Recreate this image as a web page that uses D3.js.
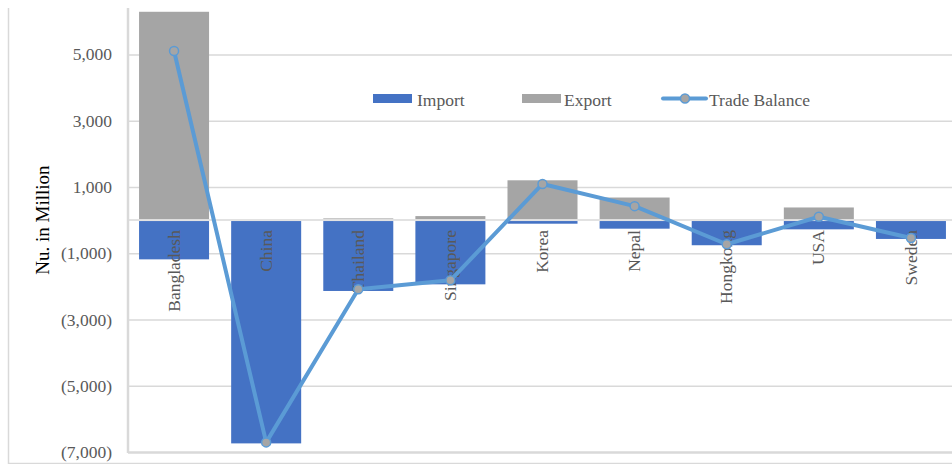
<!DOCTYPE html>
<html>
<head>
<meta charset="utf-8">
<script src="https://cdn.jsdelivr.net/npm/d3@7"></script>
<style>
  body { margin: 0; background: #fff; }
  svg { display: block; font-family: "Liberation Serif", "Times New Roman", serif; }
</style>
</head>
<body>
<script>
const countries = ["Bangladesh", "China", "Thailand", "Singapore", "Korea", "Nepal", "Hongkong", "USA", "Sweden"];
const imports = [-1186, -6740, -2140, -1940, -110, -260, -760, -280, -570];
const exports = [6286, 30, 50, 120, 1200, 680, 30, 380, 30];
const balance = [5100, -6710, -2090, -1820, 1090, 420, -730, 100, -540];
const yTicks = [-7000, -5000, -3000, -1000, 1000, 3000, 5000];

const importColor = '#4472C4', exportColor = '#A5A5A5', lineColor = '#5B9BD5';
const gridColor = '#d9d9d9', textColor = '#595959';

const width = 952, height = 464;
const plot = {left: 128, right: 957, top: 8, bottom: 452};

const svg = d3.select('body').append('svg')
    .attr('width', width)
    .attr('height', height);

// Outer chart frame (left and bottom edges show)
svg.append('path')
    .attr('d', `M8.5,8V463.5H${width}`)
    .attr('fill', 'none')
    .attr('stroke', gridColor)
    .attr('stroke-width', 1.5);

const xScale = d3.scaleBand()
    .domain(countries)
    .range([plot.left, plot.right])
    .paddingInner(0.24)
    .paddingOuter(0.12);

const yScale = d3.scaleLinear()
    .domain([-7000, 6400])
    .range([plot.bottom, plot.top]);

const fmt = d => {
    const s = d3.format(',')(Math.abs(d));
    return d < 0 ? `(${s})` : s;
};

// Horizontal gridlines and value labels
const yAxis = d3.axisLeft(yScale)
    .tickValues(yTicks)
    .tickSize(-(plot.right - plot.left))
    .tickFormat(fmt);

const yAxisG = svg.append('g')
    .attr('transform', `translate(${plot.left}, 0)`)
    .call(yAxis);
yAxisG.select('.domain').remove();
yAxisG.selectAll('.tick line')
    .attr('stroke', gridColor)
    .attr('stroke-width', 1.5);
yAxisG.selectAll('.tick line')
    .filter(d => d === -7000)
    .attr('stroke-width', 2.5);
yAxisG.selectAll('.tick text')
    .attr('x', -16)
    .attr('fill', textColor)
    .attr('font-size', 17.5)
    .attr('font-family', '"Liberation Serif", serif');

// Zero line (category axis)
svg.append('line')
    .attr('x1', plot.left).attr('x2', plot.right)
    .attr('y1', yScale(0)).attr('y2', yScale(0))
    .attr('stroke', gridColor)
    .attr('stroke-width', 1.5);

// Vertical axis line
svg.append('line')
    .attr('x1', plot.left).attr('x2', plot.left)
    .attr('y1', plot.top).attr('y2', plot.bottom + 1)
    .attr('stroke', gridColor)
    .attr('stroke-width', 2.5);

// Bars: imports below zero, exports above
svg.append('g').selectAll('rect')
    .data(countries)
    .enter()
    .append('rect')
    .attr('fill', importColor)
    .attr('x', d => xScale(d))
    .attr('width', xScale.bandwidth())
    .attr('y', yScale(0) + 1)
    .attr('height', (d, i) => yScale(imports[i]) - yScale(0) - 1);

svg.append('g').selectAll('rect')
    .data(countries)
    .enter()
    .append('rect')
    .attr('fill', exportColor)
    .attr('x', d => xScale(d))
    .attr('width', xScale.bandwidth())
    .attr('y', (d, i) => yScale(exports[i]))
    .attr('height', (d, i) => yScale(0) - 1 - yScale(exports[i]));

// Category labels, rotated, hanging below the zero line
svg.append('g').selectAll('text')
    .data(countries)
    .enter()
    .append('text')
    .attr('transform', d => `translate(${xScale(d) + xScale.bandwidth() / 2}, ${yScale(0) + 10}) rotate(-90)`)
    .attr('text-anchor', 'end')
    .attr('dy', '0.32em')
    .attr('fill', textColor)
    .attr('font-size', 17.5)
    .text(d => d);

// Trade balance line with markers
const line = d3.line()
    .x((d, i) => xScale(countries[i]) + xScale.bandwidth() / 2)
    .y(d => yScale(d));

svg.append('path')
    .datum(balance)
    .attr('d', line)
    .attr('fill', 'none')
    .attr('stroke', lineColor)
    .attr('stroke-width', 4)
    .attr('stroke-linejoin', 'round');

svg.append('g').selectAll('circle')
    .data(balance)
    .enter()
    .append('circle')
    .attr('cx', (d, i) => xScale(countries[i]) + xScale.bandwidth() / 2)
    .attr('cy', d => yScale(d))
    .attr('r', 4.5)
    .attr('fill', exportColor)
    .attr('stroke', lineColor)
    .attr('stroke-width', 1.5);

// Y axis title
svg.append('text')
    .attr('transform', `translate(42, ${yScale(0)}) rotate(-90)`)
    .attr('text-anchor', 'middle')
    .attr('dy', '0.35em')
    .attr('fill', '#000')
    .attr('font-size', 19)
    .text('Nu. in Million');

// Legend
const legend = svg.append('g').attr('font-size', 17.5).attr('fill', textColor);
legend.append('rect').attr('x', 373).attr('y', 94).attr('width', 39).attr('height', 9).attr('fill', importColor);
legend.append('text').attr('x', 417).attr('y', 105.5).text('Import');
legend.append('rect').attr('x', 522).attr('y', 94).attr('width', 39).attr('height', 9).attr('fill', exportColor);
legend.append('text').attr('x', 564).attr('y', 105.5).text('Export');
legend.append('line').attr('x1', 663).attr('x2', 706).attr('y1', 98.5).attr('y2', 98.5)
    .attr('stroke', lineColor).attr('stroke-width', 4).attr('stroke-linecap', 'round');
legend.append('circle').attr('cx', 685).attr('cy', 98.5).attr('r', 4.5)
    .attr('fill', exportColor).attr('stroke', lineColor).attr('stroke-width', 1.5);
legend.append('text').attr('x', 709).attr('y', 105.5).text('Trade Balance');
</script>
</body>
</html>
